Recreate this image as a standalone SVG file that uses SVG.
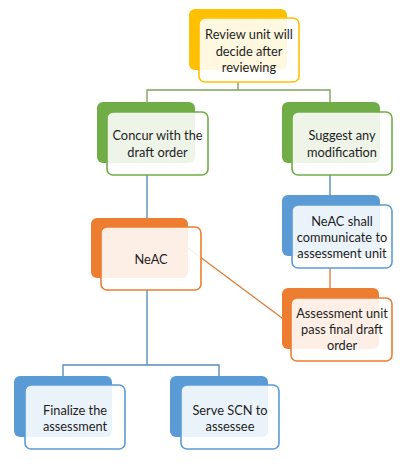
<svg xmlns="http://www.w3.org/2000/svg" width="409" height="467" viewBox="0 0 409 467">
<style>
.bk{stroke:none}
.fr{fill:#ffffff;fill-opacity:0.88;stroke-width:1.6}
.y .bk{fill:#FFC000}.y .fr{stroke:#FFC000}
.g .bk{fill:#70AD47}.g .fr{stroke:#70AD47}
.o .bk{fill:#ED7D31}.o .fr{stroke:#ED7D31}
.b .bk{fill:#5B9BD5}.b .fr{stroke:#5B9BD5}
text{font-family:Lato,"Open Sans","Liberation Sans",sans-serif;font-size:12.8px;fill:#1e1e1e;text-anchor:middle}
#connectors line,#connectors polyline{fill:none;stroke-width:1.4}
.cg{stroke:#7FA35B}.cb{stroke:#5A8DB8}.co{stroke:#DD8040}
</style>
<rect width="409" height="467" fill="#ffffff"/>
<g id="connectors">
<polyline class="cg" points="147,102 147,90 330,90 330,102"/>
<line class="cg" x1="238" y1="82" x2="238" y2="90"/>
<line class="cb" x1="147" y1="175" x2="147" y2="218"/>
<line class="cb" x1="330" y1="175" x2="330" y2="195"/>
<line class="co" x1="330" y1="268" x2="330" y2="288"/>
<line class="co" x1="188" y1="248" x2="282" y2="318"/>
<line class="cb" x1="147" y1="290" x2="147" y2="365"/>
<polyline class="cb" points="63,376 63,365 219,365 219,376"/>
</g>
<g id="review" class="y">
<rect class="bk" x="189" y="9" width="98" height="61" rx="6"/>
<rect class="fr" x="199" y="18" width="100" height="64" rx="6"/>
<text x="249" y="39">Review unit will</text>
<text x="249" y="56">decide after</text>
<text x="249" y="72">reviewing</text>
</g>
<g id="concur" class="g">
<rect class="bk" x="97" y="102" width="98" height="61" rx="6"/>
<rect class="fr" x="107" y="112" width="101" height="63" rx="6"/>
<text x="157.5" y="140">Concur with the</text>
<text x="157.5" y="157">draft order</text>
</g>
<g id="suggest" class="g">
<rect class="bk" x="282" y="102" width="98" height="61" rx="6"/>
<rect class="fr" x="292" y="112" width="100" height="63" rx="6"/>
<text x="342" y="140">Suggest any</text>
<text x="342" y="157">modification</text>
</g>
<g id="neac" class="o">
<rect class="bk" x="91" y="218" width="97" height="60" rx="6"/>
<rect class="fr" x="101" y="227" width="100" height="63" rx="6"/>
<text x="151" y="264">NeAC</text>
</g>
<g id="communicate" class="b">
<rect class="bk" x="282" y="195" width="98" height="61" rx="6"/>
<rect class="fr" x="292" y="205" width="100" height="63" rx="6"/>
<text x="342" y="226">NeAC shall</text>
<text x="342" y="242">communicate to</text>
<text x="342" y="258">assessment unit</text>
</g>
<g id="pass" class="o">
<rect class="bk" x="282" y="288" width="97" height="61" rx="6"/>
<rect class="fr" x="291" y="298" width="101" height="63" rx="6"/>
<text x="342" y="318">Assessment unit</text>
<text x="342" y="334">pass final draft</text>
<text x="342" y="350">order</text>
</g>
<g id="finalize" class="b">
<rect class="bk" x="14" y="376" width="98" height="61" rx="6"/>
<rect class="fr" x="25" y="385" width="100" height="64" rx="6"/>
<text x="75" y="415">Finalize the</text>
<text x="75" y="431">assessment</text>
</g>
<g id="serve" class="b">
<rect class="bk" x="170" y="376" width="98" height="61" rx="6"/>
<rect class="fr" x="181" y="385" width="98" height="64" rx="6"/>
<text x="230" y="415">Serve SCN to</text>
<text x="230" y="431">assessee</text>
</g>
</svg>
